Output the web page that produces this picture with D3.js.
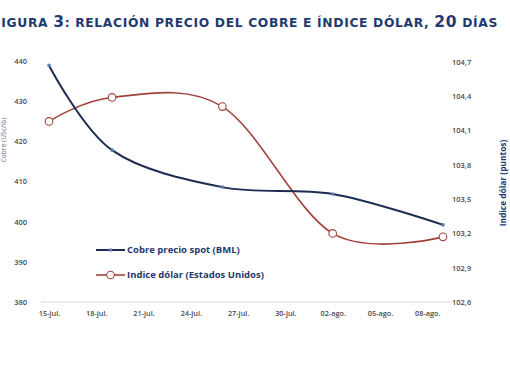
<!DOCTYPE html>
<html>
<head>
<meta charset="utf-8">
<script src="https://cdn.jsdelivr.net/npm/d3@7"></script>
<style>
  html, body { margin: 0; padding: 0; background: #fff; }
  svg { display: block; }
</style>
</head>
<body>
<svg id="chart" width="510" height="368"></svg>
<script>
// ---- data ----
const dates = ["2011-07-15", "2011-07-19", "2011-07-26", "2011-08-02", "2011-08-09"];
const copper = [438.9, 417.8, 408.6, 406.9, 399.2];
const dollar = [104.18, 104.39, 104.31, 103.20, 103.17];
const xTickDates = ["2011-07-15", "2011-07-18", "2011-07-21", "2011-07-24", "2011-07-27", "2011-07-30", "2011-08-02", "2011-08-05", "2011-08-08"];
const xTickLabels = ["15-jul.", "18-jul.", "21-jul.", "24-jul.", "27-jul.", "30-jul.", "02-ago.", "05-ago.", "08-ago."];
const leftTicks = [380, 390, 400, 410, 420, 430, 440];
const rightTicks = [102.6, 102.9, 103.2, 103.5, 103.8, 104.1, 104.4, 104.7];
const seriesNames = ["Cobre precio spot (BML)", "Indice dólar (Estados Unidos)"];

const parse = d3.timeParse("%Y-%m-%d");
const svg = d3.select("#chart");
const navy = "#1F3A6E";
const copperColor = "#1E2B52";
const dollarColor = "#A2423D";
const labelColor = "#4A4A4A";

// ---- title ----
const title = svg.append("text")
  .attr("x", 498).attr("y", 27)
  .attr("text-anchor", "end")
  .attr("font-family", "DejaVu Sans, Verdana, sans-serif")
  .attr("font-weight", "bold")
  .attr("letter-spacing", 0.66)
  .attr("fill", navy);
const big = 15.5, small = 12.3;
[["F", big], ["IGURA ", small], ["3", big], [": RELACIÓN PRECIO DEL COBRE E ÍNDICE DÓLAR, ", small], ["20", big], [" DÍAS", small]]
  .forEach(([t, s]) => title.append("tspan").attr("font-size", s).text(t));

// ---- scales ----
const x = d3.scaleTime()
  .domain([parse("2011-07-15"), parse("2011-08-09")])
  .range([49, 443]);
const yL = d3.scaleLinear().domain([380, 440]).range([302, 61]);
const yR = d3.scaleLinear().domain([102.6, 104.7]).range([302, 62]);

// ---- baseline axis ----
const halfDay = 12 * 3600 * 1000;
svg.append("line")
  .attr("x1", x(new Date(parse("2011-07-15").getTime() - halfDay)))
  .attr("x2", x(new Date(parse("2011-08-09").getTime() + halfDay)))
  .attr("y1", yL(380)).attr("y2", yL(380))
  .attr("stroke", "#D9D9D9").attr("stroke-width", 1);

// ---- left axis ----
const axL = d3.axisLeft(yL).tickValues(leftTicks).tickSize(0).tickPadding(0).tickFormat(d3.format("d"));
const gL = svg.append("g").attr("transform", "translate(27,0)").call(axL);
gL.select(".domain").remove();
gL.selectAll("text").attr("font-family", "Open Sans, sans-serif").attr("font-size", 7.5)
  .attr("font-weight", 600).attr("fill", labelColor);

// ---- right axis ----
const axR = d3.axisRight(yR).tickValues(rightTicks).tickSize(0).tickPadding(0)
  .tickFormat(d => d3.format(".1f")(d).replace(".", ","));
const gR = svg.append("g").attr("transform", "translate(452,0)").call(axR);
gR.select(".domain").remove();
gR.selectAll("text").attr("font-family", "Open Sans, sans-serif").attr("font-size", 7.5)
  .attr("font-weight", 600).attr("fill", labelColor);

// ---- x axis ----
const axX = d3.axisBottom(x).tickValues(xTickDates.map(parse)).tickSize(0).tickPadding(0)
  .tickFormat((d, i) => xTickLabels[i]);
const gX = svg.append("g").attr("transform", "translate(0,311)").call(axX);
gX.select(".domain").remove();
gX.selectAll("text").attr("font-family", "Open Sans, sans-serif").attr("font-size", 7.3)
  .attr("font-weight", 600).attr("fill", labelColor);

// ---- axis titles ----
svg.append("text")
  .attr("transform", "translate(506,183) rotate(-90)")
  .attr("text-anchor", "middle")
  .attr("font-family", "Open Sans, sans-serif").attr("font-size", 8.4).attr("font-weight", 700)
  .attr("fill", navy)
  .text("Indice dólar (puntos)");
svg.append("text")
  .attr("transform", "translate(6,140) rotate(-90)")
  .attr("text-anchor", "middle")
  .attr("font-family", "Open Sans, sans-serif").attr("font-size", 6.5).attr("font-weight", 600)
  .attr("fill", navy).attr("fill-opacity", 0.6)
  .text("Cobre (USc/lb)");

// ---- lines ----
const ptsC = dates.map((d, i) => ({ date: parse(d), v: copper[i] }));
const ptsD = dates.map((d, i) => ({ date: parse(d), v: dollar[i] }));
const curve = d3.curveCatmullRom.alpha(0);

svg.append("path").datum(ptsD)
  .attr("d", d3.line().x(d => x(d.date)).y(d => yR(d.v)).curve(curve))
  .attr("fill", "none").attr("stroke", dollarColor).attr("stroke-width", 1.6);
svg.append("path").datum(ptsC)
  .attr("d", d3.line().x(d => x(d.date)).y(d => yL(d.v)).curve(curve))
  .attr("fill", "none").attr("stroke", copperColor).attr("stroke-width", 2);

svg.selectAll(".mD").data(ptsD).enter().append("circle")
  .attr("cx", d => x(d.date)).attr("cy", d => yR(d.v)).attr("r", 3.8)
  .attr("fill", "#fff").attr("stroke", dollarColor).attr("stroke-width", 1.1);
svg.selectAll(".mC").data(ptsC).enter().append("circle")
  .attr("cx", d => x(d.date)).attr("cy", d => yL(d.v)).attr("r", 1.8)
  .attr("fill", "#5B7DB1").attr("stroke", "none");

// ---- legend ----
const leg = svg.append("g");
const legY = [250, 275];
[0, 1].forEach(i => {
  const g = leg.append("g").attr("transform", `translate(0,${legY[i]})`);
  const col = i === 0 ? copperColor : dollarColor;
  g.append("line").attr("x1", 96).attr("x2", 125).attr("y1", 0).attr("y2", 0)
    .attr("stroke", col).attr("stroke-width", i === 0 ? 2 : 1.6);
  if (i === 0) {
    g.append("circle").attr("cx", 110.5).attr("cy", 0).attr("r", 1.8).attr("fill", "#5B7DB1");
  } else {
    g.append("circle").attr("cx", 110.5).attr("cy", 0).attr("r", 3.8)
      .attr("fill", "#fff").attr("stroke", col).attr("stroke-width", 1.1);
  }
  g.append("text").attr("x", 127).attr("y", 0).attr("dy", "0.35em")
    .attr("font-family", "Open Sans, sans-serif").attr("font-size", 9.5).attr("font-weight", 700)
    .attr("fill", navy).text(seriesNames[i]);
});
</script>
</body>
</html>
